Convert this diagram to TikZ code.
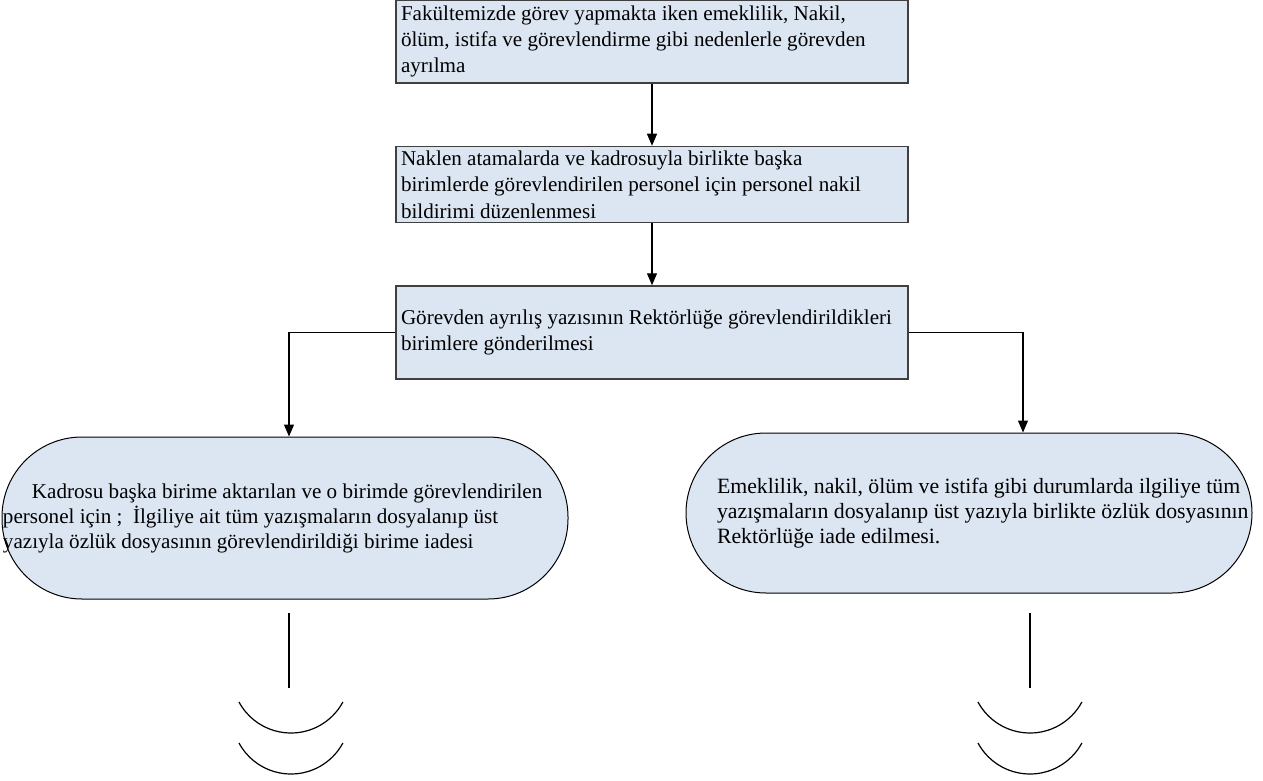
\documentclass[tikz,border=0pt]{standalone}
\usepackage{fontspec}
\setmainfont{Liberation Serif}
\usetikzlibrary{positioning,arrows.meta}
\definecolor{kutu}{RGB}{220,230,242}
\newcommand{\yazi}{\fontsize{10.55pt}{13.2pt}\selectfont}
\newcommand{\sonyazi}{\fontsize{10.55pt}{12.5pt}\selectfont}

\begin{document}
\begin{tikzpicture}[x=0.5pt, y=-0.5pt, line width=0.6pt, >={Triangle[length=6pt,width=5pt]},
	adim/.style={draw=black!75, line width=0.75pt, fill=kutu, text width=251pt, align=flush left, inner xsep=2.5pt, inner ysep=1pt, font=\yazi,
		execute at begin node={\rightskip=-10pt plus 1fil}},
	sonuc/.style={draw, line width=0.5pt, fill=kutu, rounded corners=40pt, text width=283pt, align=flush left, inner xsep=0pt, font=\sonyazi}]
	\useasboundingbox (0,0) rectangle (1263,781);

	\node[adim, minimum height=41.5pt](ayrilma) at (652,41.5){Fakültemizde görev yapmakta iken emeklilik, Nakil,\\ölüm, istifa ve görevlendirme gibi nedenlerle görevden\\ayrılma};
	\node[adim, minimum height=38pt](nakil)[below=31pt of ayrilma]{Naklen atamalarda ve kadrosuyla birlikte başka\\birimlerde görevlendirilen personel için personel nakil\\bildirimi düzenlenmesi};
	\node[adim, minimum height=46.5pt](yazi)[below=31pt of nakil]{Görevden ayrılış yazısının Rektörlüğe görevlendirildikleri\\birimlere gönderilmesi};
	\node[sonuc, minimum height=81pt,
		execute at begin node={\leftskip=0.5pt\rightskip=-10pt plus 1fil}](kadro) at (285,518){\hspace*{14.5pt}Kadrosu başka birime aktarılan ve o birimde görevlendirilen\\personel için ;\ \ İlgiliye ait tüm yazışmaların dosyalanıp üst\\yazıyla özlük dosyasının görevlendirildiği birime iadesi};
	\node[sonuc, minimum height=80pt, font=\fontsize{10.9pt}{12.5pt}\selectfont,
		execute at begin node={\leftskip=15.5pt\rightskip=-10pt plus 1fil}](emekli) at (969,513){Emeklilik, nakil, ölüm ve istifa gibi durumlarda ilgiliye tüm\\yazışmaların dosyalanıp üst yazıyla birlikte özlük dosyasının\\Rektörlüğe iade edilmesi.};

	\path[->]
	(ayrilma) edge (nakil)
	(nakil) edge (yazi);
	\draw[->] (yazi.west) -| ([xshift=2pt]kadro.north);
	\draw[->] (yazi.east) -| ([xshift=27pt]emekli.north);

	% devam isaretleri
	\draw (289,613) -- (289,688);
	\draw (1030,613) -- (1030,688);
	\foreach \y in {702,743}{
		\draw (239,\y) arc[start angle=151.7, end angle=28.3, radius=59];
		\draw (978,\y) arc[start angle=151.7, end angle=28.3, radius=59];
	}
\end{tikzpicture}
\end{document}
